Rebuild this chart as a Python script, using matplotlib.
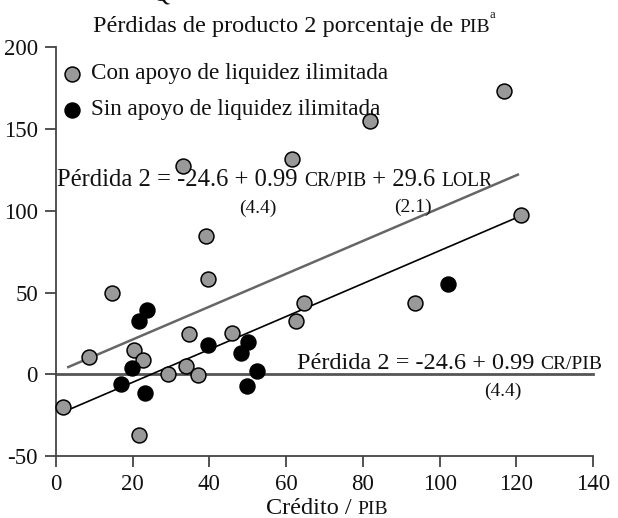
import matplotlib
matplotlib.use("Agg")
import matplotlib.pyplot as plt
from matplotlib.offsetbox import TextArea, HPacker, AnnotationBbox

# --- data ---
con_x = [1.9, 8.7, 14.5, 20.3, 21.7, 22.8, 29.2, 33.0, 34.0, 34.7, 37.1,
         39.0, 39.7, 45.9, 61.4, 62.6, 64.7, 81.9, 93.5, 116.8, 121.1]
con_y = [-20.2, 10.5, 49.6, 14.8, -37.4, 9.0, 0.0, 127.6, 5.1, 24.8, -0.4,
         84.6, 58.4, 25.2, 131.5, 32.5, 43.5, 154.7, 43.7, 173.0, 97.7]

sin_x = [17.0, 19.7, 21.7, 23.2, 23.6, 39.7, 48.2, 49.7, 50.1, 52.5, 102.1]
sin_y = [-6.1, 4.1, 32.3, -11.6, 39.5, 18.1, 13.0, -7.1, 19.7, 2.0, 55.1]

# regression lines (end points)
fit_x = [4.1, 119.7]
fit_y = [-20.9, 95.4]
lolr_x = [3.2, 120.4]
lolr_y = [4.4, 122.1]

x_ticks = [0, 20, 40, 60, 80, 100, 120, 140]
y_ticks = [-50, 0, 50, 100, 150, 200]

FONT = "Liberation Serif"
GRAY = "#999999"
AXC = "#444444"
TXT = "#111111"
FS = 17
plt.rcParams['font.family'] = FONT
plt.rcParams['axes.unicode_minus'] = False


def sc_text(ax, x, y, parts, size, ha=0.0, xycoords="data"):
    # text with small caps pieces (sc=True -> smaller upper case)
    kids = [TextArea(t, textprops=dict(size=size * 0.8 if sc else size,
                                       family=FONT, color=TXT))
            for t, sc in parts]
    box = HPacker(children=kids, align="baseline", pad=0, sep=0)
    ab = AnnotationBbox(box, (x, y), xycoords=xycoords, frameon=False,
                        box_alignment=(ha, 0), pad=0, annotation_clip=False,
                        zorder=1)
    ax.add_artist(ab)


fig = plt.figure(figsize=(6.18, 5.18), dpi=100)
ax = fig.add_axes([0.0906, 0.1197, 0.869, 0.789])

ax.plot([0, 140], [0, 0], color="#555555", lw=2, zorder=2, clip_on=False)
ax.plot(lolr_x, lolr_y, color="#666666", lw=1.8, zorder=2)
ax.plot(fit_x, fit_y, color="black", lw=1.2, zorder=2)

ax.scatter(con_x, con_y, s=115, c=GRAY, edgecolors="black", linewidths=1.1,
           zorder=4, clip_on=False)
ax.scatter(sin_x, sin_y, s=115, c="black", edgecolors="black", linewidths=1.1,
           zorder=4, clip_on=False)

# legend drawn as in the original
ax.scatter([4.2], [183.7], s=115, c=GRAY, edgecolors="black", linewidths=1.1,
           zorder=4, clip_on=False)
ax.scatter([4.2], [161.8], s=115, c="black", edgecolors="black",
           linewidths=1.1, zorder=4, clip_on=False)
ax.text(9.1, 180.7, "Con apoyo de liquidez ilimitada", fontsize=FS - 0.3,
        va="baseline", color=TXT, zorder=1)
ax.text(9.1, 158.7, "Sin apoyo de liquidez ilimitada", fontsize=FS - 0.3,
        va="baseline", color=TXT, zorder=1)

# equations
sc_text(ax, 0.3, 112, [("Pérdida 2 = -24.6 + 0.99 ", False), ("CR/PIB", True),
                       (" + 29.6 ", False), ("LOLR", True)], FS + 0.7)
ax.text(52.6, 101.4, "(4.4)", fontsize=14, ha="center", va="center", color=TXT)
ax.text(93.0, 102.0, "(2.1)", fontsize=14, ha="center", va="center", color=TXT)
sc_text(ax, 62.7, 0.4, [("Pérdida 2 = -24.6 + 0.99 ", False),
                        ("CR/PIB", True)], FS + 0.5)
ax.text(116.4, -10.2, "(4.4)", fontsize=14, ha="center", va="center", color=TXT)

# title
sc_text(ax, 93 / 618, 1 - 37 / 518,
        [("Pérdidas de producto 2 porcentaje de ", False), ("PIB", True)],
        FS + 0.5, xycoords=fig.transFigure)
fig.text(492 / 618, 1 - 15 / 518, "a", fontsize=9, ha="center", va="center",
         color=TXT)
fig.text(162 / 618, 1 + 5 / 518, "Q", fontsize=17, ha="center", va="center",
         color=TXT)

# x label
sc_text(ax, 0.505, -0.154, [("Crédito / ", False), ("PIB", True)], FS + 0.5,
        ha=0.5, xycoords="axes fraction")

ax.set_xlim(0, 140)
ax.set_ylim(-50, 200)
ax.set_xticks(x_ticks)
ax.set_yticks(y_ticks)
for s in ["top", "right"]:
    ax.spines[s].set_visible(False)
for s in ["left", "bottom"]:
    ax.spines[s].set_color(AXC)
    ax.spines[s].set_linewidth(1.3)
ax.tick_params(direction="out", length=8, width=1.3, color=AXC,
               labelsize=16.5, labelcolor=TXT, pad=5)

fig.savefig("out.png", dpi=100)
